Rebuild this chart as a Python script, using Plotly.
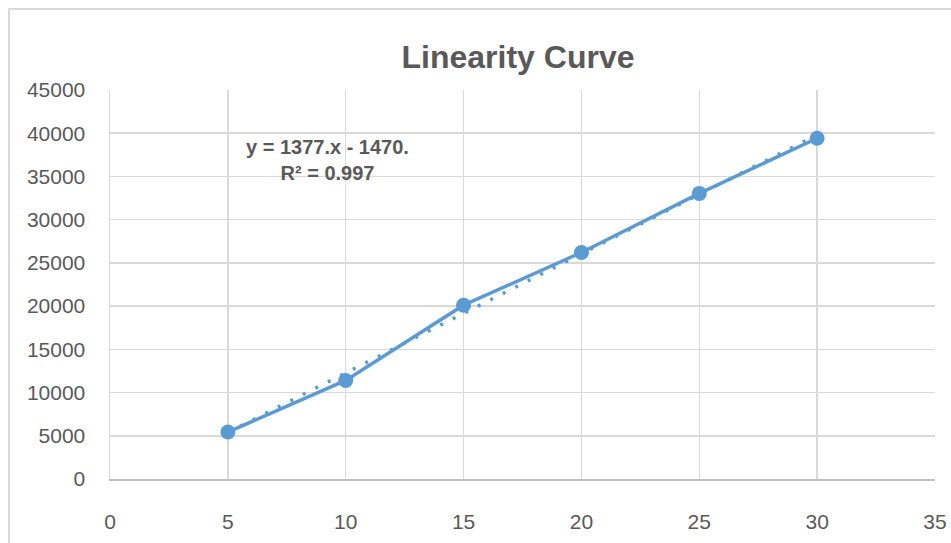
import numpy as np
import plotly.graph_objects as go

# ---- data ----
concentration = [5, 10, 15, 20, 25, 30]
response = [5430, 11400, 20110, 26200, 33040, 39420]
x_ticks = [0, 5, 10, 15, 20, 25, 30, 35]
y_ticks = [0, 5000, 10000, 15000, 20000, 25000, 30000, 35000, 40000, 45000]
title_text = "Linearity Curve"
equation_text = "y = 1377.x - 1470."
r2_text = "R² = 0.997"

# ---- trendline from the data ----
slope, intercept = np.polyfit(concentration, response, 1)
trend_x = [min(concentration), max(concentration)]
trend_y = [slope * v + intercept for v in trend_x]

BLUE = "#5B9BD5"
GRID = "#D9D9D9"
TXT = "#595959"
FONT = "Liberation Sans, Arial, sans-serif"

W, H = 951, 543
L, R, T, B = 110, 16, 90, 64
pw, ph = W - L - R, H - T - B

fig = go.Figure()
fig.add_trace(go.Scatter(
    x=concentration, y=response, mode="lines+markers",
    line=dict(color=BLUE, width=3.5),
    marker=dict(color=BLUE, size=15, line=dict(width=0)),
    showlegend=False, hoverinfo="skip"))
fig.add_trace(go.Scatter(
    x=trend_x, y=trend_y, mode="lines",
    line=dict(color=BLUE, width=3.5, dash="3px,11px"),
    showlegend=False, hoverinfo="skip"))

fig.update_layout(
    width=W, height=H, autosize=False,
    margin=dict(l=L, r=R, t=T, b=B, pad=0, autoexpand=False),
    paper_bgcolor="white", plot_bgcolor="white",
    title=dict(text="<b>" + title_text + "</b>", x=518 / W, xanchor="center",
               y=1 - 57 / H, yanchor="middle", xref="container", yref="container",
               automargin=False,
               font=dict(family=FONT, size=32, color=TXT)),
    font=dict(family=FONT, color=TXT),
    xaxis=dict(range=[0, 35], tickvals=x_ticks, ticktext=[str(v) for v in x_ticks],
               showgrid=True, gridcolor=GRID, gridwidth=1.5, automargin=False,
               zeroline=False, showline=True, linecolor="#BFBFBF", linewidth=2,
               ticks="", tickfont=dict(family=FONT, size=21, color=TXT),
               ticklabelstandoff=23, fixedrange=True),
    yaxis=dict(range=[0, 45000], tickvals=y_ticks, ticktext=[str(v) for v in y_ticks],
               showgrid=True, gridcolor=GRID, gridwidth=1.5, automargin=False,
               zeroline=False, showline=True, linecolor=GRID, linewidth=1.5,
               ticks="", tickfont=dict(family=FONT, size=21, color=TXT),
               ticklabelstandoff=19, fixedrange=True),
    annotations=[dict(
        text="<b>" + equation_text + "</b><br><b>" + r2_text + "</b>",
        xref="paper", yref="paper",
        x=(327 - L) / pw, y=(H - B - 160) / ph,
        xanchor="center", yanchor="middle", align="center", showarrow=False,
        font=dict(family=FONT, size=20, color=TXT))],
    shapes=[dict(type="rect", xref="paper", yref="paper",
                 x0=(9 - L) / pw, x1=(W + 20 - L) / pw,
                 y0=-(B + 20) / ph, y1=1 + (T - 9) / ph,
                 line=dict(color=GRID, width=2), fillcolor="rgba(0,0,0,0)", layer="below")],
)

fig.write_html("out.html", config={"displayModeBar": False, "staticPlot": True},
               post_script="document.body.style.margin='0';document.body.style.overflow='hidden';")
